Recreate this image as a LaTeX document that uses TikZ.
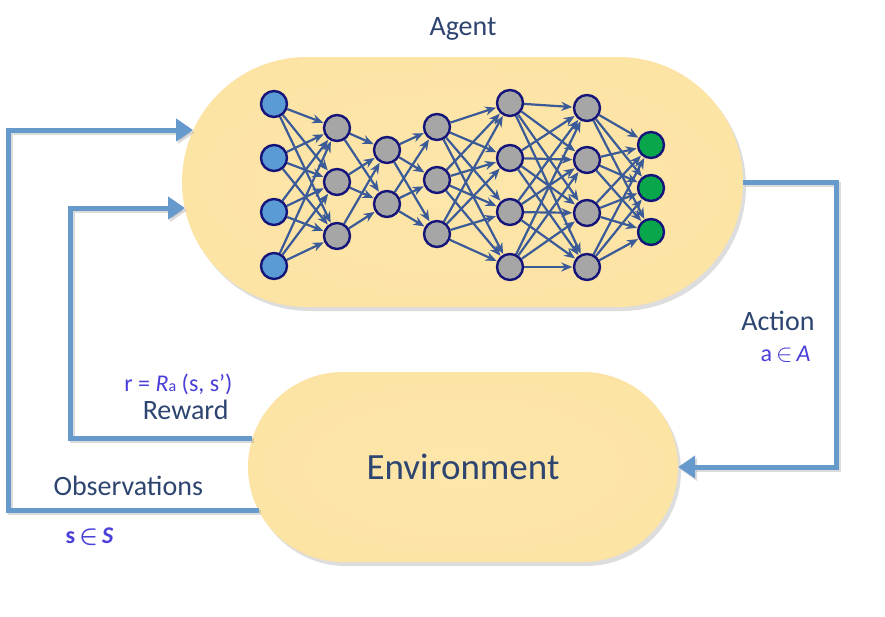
\documentclass[tikz,border=0pt]{standalone}
\usepackage{fontspec}
\usepackage{amsmath}
\setmainfont{Carlito}
\usetikzlibrary{shapes.misc,arrows.meta,shadows}
\definecolor{pillin}{HTML}{FDE6AA}
\definecolor{pillout}{HTML}{FADB92}
\definecolor{connc}{HTML}{6699CC}
\definecolor{edgec}{HTML}{3B5A98}
\definecolor{nodeb}{HTML}{14147A}
\definecolor{inblue}{HTML}{5B9BD5}
\definecolor{hidgray}{HTML}{A6A6A6}
\definecolor{outgreen}{HTML}{0AA64B}
\definecolor{labc}{HTML}{2D4570}
\definecolor{mathc}{HTML}{4A3FD8}
\pgfdeclareradialshading{pillshade}{\pgfpoint{0bp}{0bp}}{color(0bp)=(pillin); color(38bp)=(pillin!70!pillout); color(50bp)=(pillout)}
\pgfdeclarelayer{pills}
\pgfdeclarelayer{edges}
\pgfsetlayers{pills,edges,main}
\begin{document}
\begin{tikzpicture}[x=1pt,y=-1pt,
  pill/.style={rounded rectangle, inner sep=0pt, draw=none, shading=pillshade,
    drop shadow={shadow xshift=3pt, shadow yshift=-4pt, opacity=0.22, fill=black!60}},
  conn/.style={line width=5pt, color=connc, line join=miter,
    -{Triangle[length=17pt,width=22pt]},
    preaction={draw=black!40, opacity=0.35, line width=5pt, -{Triangle[length=17pt,width=22pt]},
      transform canvas={shift={(2pt,-2.5pt)}}}},
  neuron/.style={circle, draw=nodeb, line width=2.4pt, minimum size=26pt, inner sep=0pt},
  nnedge/.style={color=edgec, line width=2.2pt, -{Stealth[length=11pt,width=9pt]}, shorten >=0.5pt},
  lab/.style={text=labc, font=\fontsize{28}{30}\selectfont},
  mathlab/.style={text=mathc, font=\fontsize{24}{26}\selectfont}
]
\useasboundingbox (0,0) rectangle (885,616);
\begin{pgfonlayer}{pills}
\fill[white] (0,0) rectangle (885,616);
\node[pill, minimum width=561pt, minimum height=250pt] (agent) at (462.5,182) {};
\node[pill, minimum width=430pt, minimum height=190pt] (env) at (463,467) {};
\end{pgfonlayer}

\node[lab] (agentlab) at (463,29) {Agent};
\node[text=labc, font=\fontsize{37}{40}\selectfont] (envlab) at (463,467) {Environment};

% neurons
\foreach \y [count=\i] in {104,158,212,266}
  \node[neuron, fill=inblue] (n1-\i) at (274,\y) {};
\foreach \y [count=\i] in {128,182,236}
  \node[neuron, fill=hidgray] (n2-\i) at (337,\y) {};
\foreach \y [count=\i] in {150,204}
  \node[neuron, fill=hidgray] (n3-\i) at (387,\y) {};
\foreach \y [count=\i] in {127,180,234}
  \node[neuron, fill=hidgray] (n4-\i) at (437,\y) {};
\foreach \y [count=\i] in {103,158,212,267}
  \node[neuron, fill=hidgray] (n5-\i) at (510,\y) {};
\foreach \y [count=\i] in {108,160,213,267}
  \node[neuron, fill=hidgray] (n6-\i) at (587,\y) {};
\foreach \y [count=\i] in {145,188,232}
  \node[neuron, fill=outgreen] (n7-\i) at (651,\y) {};

% edges
\begin{pgfonlayer}{edges}
\foreach \a/\na/\b/\nb in {1/4/2/3, 2/3/3/2, 3/2/4/3, 4/3/5/4, 5/4/6/4, 6/4/7/3}{
  \foreach \i in {1,...,\na}{
    \foreach \j in {1,...,\nb}{
      \draw[nnedge] (n\a-\i) -- (n\b-\j);
    }
  }
}
\end{pgfonlayer}

% connector points
\coordinate (obsstart) at (259,510);
\coordinate (obsc1) at (8,510);
\coordinate (obsc2) at (8,130);
\coordinate (obsend) at (193,130);
\coordinate (rewstart) at (252,438);
\coordinate (rewc1) at (70,438);
\coordinate (rewc2) at (70,208);
\coordinate (rewend) at (185,208);
\coordinate (actc1) at (836,182);
\coordinate (actc2) at (836,467);

\draw[conn] (obsstart) -- (obsc1) -- (obsc2) -- (obsend);
\draw[conn] (rewstart) -- (rewc1) -- (rewc2) -- (rewend);
\draw[conn] (agent.east) -- (actc1) -- (actc2) -- (env.east);

% labels
\node[lab, anchor=base east] (actlab) at (818,330) {Action};
\node[mathlab, anchor=base east] (actmath) at (814,361) {a\,$\in$\,\textit{A}};
\node[mathlab, anchor=base east] (rewmath) at (236,391) {r = \textit{R}{\fontsize{16}{17}\selectfont a} (s, s’)};
\node[lab, anchor=base east] (rewlab) at (232,419) {Reward};
\node[lab, anchor=base west] (obslab) at (50,495) {Observations};
\node[mathlab, anchor=base west] (obsmath) at (62,543) {\textbf{s\,$\boldsymbol{\in}$\,\textit{S}}};
\end{tikzpicture}
\end{document}
